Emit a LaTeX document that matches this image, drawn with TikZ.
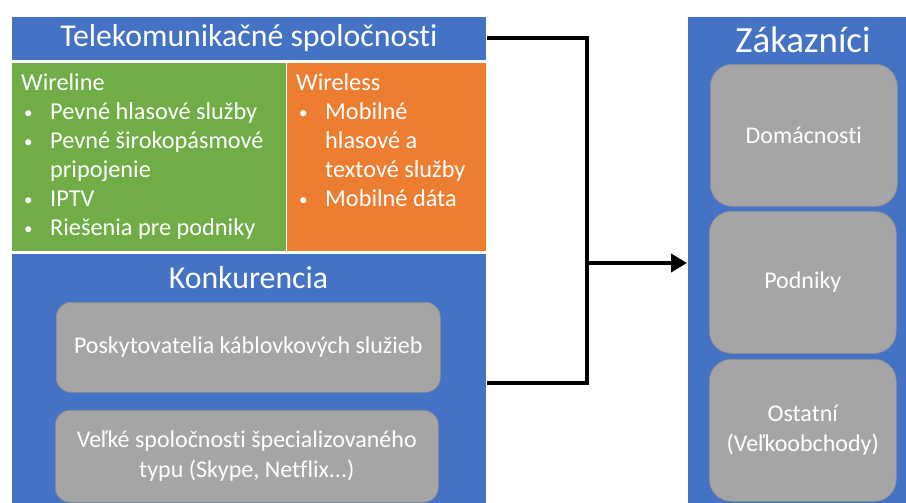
\documentclass[tikz,border=0pt]{standalone}
\usepackage{fontspec}
\setmainfont{Carlito}[Ligatures=NoCommon]
\usetikzlibrary{arrows.meta}
\definecolor{pblue}{HTML}{4472C4}
\definecolor{pgreen}{HTML}{70AD47}
\definecolor{porange}{HTML}{ED7D31}
\definecolor{pgray}{HTML}{A5A5A5}
\definecolor{pgrayline}{HTML}{8C8C8C}
\newcommand{\blt}{\makebox[29pt][l]{\hspace{3pt}\raisebox{1pt}{\fontsize{17}{17}\selectfont •}}}
\newcommand{\cont}{\hspace*{29pt}}
\begin{document}
\begin{tikzpicture}[x=1pt,y=-1pt,
  panel/.style={draw=white, line width=0.8pt, anchor=north west, inner sep=0pt, text=white},
  bluepanel/.style={panel, fill=pblue},
  tile/.style={draw=pgrayline, line width=0.6pt, fill=pgray, anchor=north west, inner sep=0pt,
    text=white, align=center, font=\fontsize{24}{30}\selectfont},
  listtext/.style={anchor=north west, inner sep=0pt, text=white, align=left,
    font=\fontsize{24.3}{29}\selectfont},
  conn/.style={line width=4pt, black, line join=miter}]
\useasboundingbox (0,0) rectangle (906,503);
\clip (0,0) rectangle (906,503);

% left column: operators
\node[bluepanel, minimum width=475pt, minimum height=44pt,
      font=\fontsize{31.8}{36}\selectfont] (tel) at (11,16) {Telekomunikačné spoločnosti};
\node[panel, fill=pgreen, minimum width=275pt, minimum height=189pt] (wireline) at (11,62) {};
\node[panel, fill=porange, minimum width=200pt, minimum height=189pt] (wireless) at (286,62) {};
\node[listtext] (wlinetxt) at (21,73) {Wireline\\
  \blt Pevné hlasové služby\\
  \blt Pevné širokopásmové\\
  \cont pripojenie\\
  \blt IPTV\\
  \blt Riešenia pre podniky};
\node[listtext] (wlesstxt) at (296,73) {Wireless\\
  \blt Mobilné\\
  \cont hlasové a\\
  \cont textové služby\\
  \blt Mobilné dáta};

% competitors
\node[bluepanel, minimum width=475pt, minimum height=259pt] (konk) at (11,253) {};
\node[anchor=base, text=white, inner sep=0pt, font=\fontsize{31.8}{36}\selectfont] (konktitle)
  at (248.5,288) {Konkurencia};
\node[tile, rounded corners=15pt, minimum width=384pt, minimum height=90pt] (cable) at (56,302)
  {Poskytovatelia káblovkových služieb};
\node[tile, rounded corners=15pt, minimum width=383pt, minimum height=92pt] (ott) at (55,410)
  {Veľké spoločnosti špecializovaného\\typu (Skype, Netflix...)};

% customers
\node[bluepanel, minimum width=240pt, minimum height=500pt] (zak) at (687,16) {};
\node[anchor=base, text=white, inner sep=0pt, font=\fontsize{36.9}{42}\selectfont] (zaktitle)
  at (803,53) {Zákazníci};
\node[tile, rounded corners=22pt, minimum width=187pt, minimum height=142pt] (dom) at (710,64) {Domácnosti};
\node[tile, rounded corners=22pt, minimum width=187pt, minimum height=142pt] (pod) at (709,211) {Podniky};
\node[tile, rounded corners=22pt, minimum width=187pt, minimum height=142pt] (ost) at (709,359)
  {Ostatní\\(Veľkoobchody)};

% connectors
\coordinate (jn) at (587,263);
\draw[conn] (tel.east) -| (jn) |- (konk.east);
\draw[conn, -{Triangle[length=16pt, width=18pt]}] (jn) -- (zak.west |- jn);
\end{tikzpicture}
\end{document}
